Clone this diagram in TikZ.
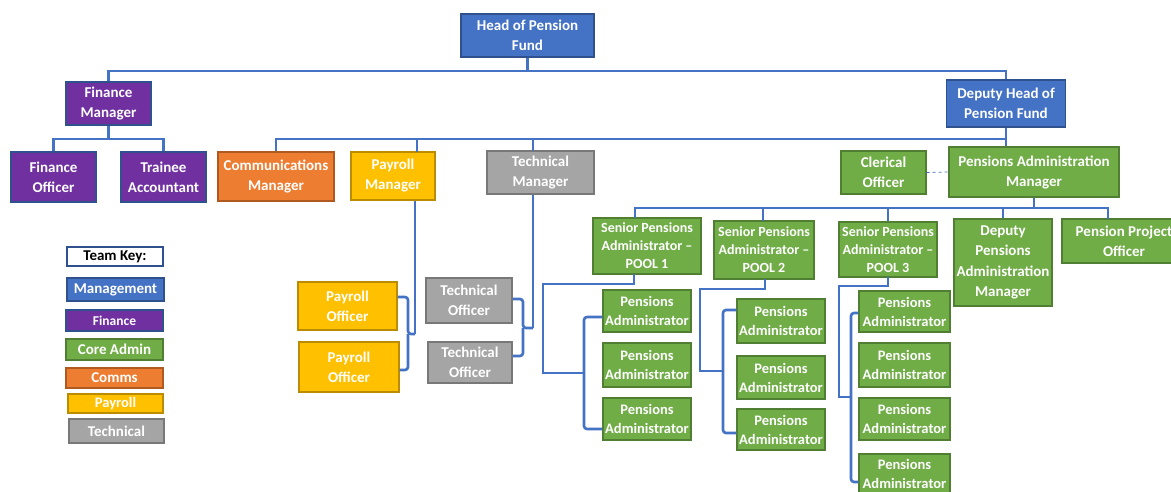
\documentclass[tikz,border=0pt]{standalone}
\usepackage{fontspec}
\setmainfont{Carlito}
\definecolor{mgmt}{HTML}{4472C4}
\definecolor{mgmtD}{HTML}{2F528F}
\definecolor{fin}{HTML}{7030A0}
\definecolor{core}{HTML}{70AD47}
\definecolor{coreD}{HTML}{507E32}
\definecolor{comm}{HTML}{ED7D31}
\definecolor{commD}{HTML}{AE5A21}
\definecolor{pay}{HTML}{FFC000}
\definecolor{payD}{HTML}{BC8C00}
\definecolor{tech}{HTML}{A5A5A5}
\definecolor{techD}{HTML}{787878}
\definecolor{linec}{HTML}{4472C4}
\tikzset{
  box/.style={draw, line width=1.2pt, align=center, text=white, inner sep=0pt,
    font=\bfseries\fontsize{15}{20}\selectfont},
  bmg/.style={box, fill=mgmt, draw=mgmtD},
  bfi/.style={box, fill=fin, draw=mgmtD},
  bco/.style={box, fill=core, draw=coreD},
  bcm/.style={box, fill=comm, draw=commD},
  bpy/.style={box, fill=pay, draw=payD},
  bte/.style={box, fill=tech, draw=techD},
  smalltxt/.style={font=\bfseries\fontsize{14}{18}\selectfont},
  patxt/.style={font=\bfseries\fontsize{14.5}{19}\selectfont},
  conn/.style={draw=linec, line width=2.6pt},
  sz/.style 2 args={minimum width=#1pt, minimum height=#2pt},
}
\begin{document}
\begin{tikzpicture}[x=1pt,y=-1pt]
\useasboundingbox (0,0) rectangle (1171,492);
\clip (0,0) rectangle (1171,492);
\fill[white] (0,0) rectangle (1171,492);

% top level
\node[bmg, sz={133}{43}] (head) at (527.5,35.5) {Head of Pension\\Fund};
\node[bfi, sz={85}{43}] (fm) at (108.5,103.5) {Finance\\Manager};
\node[bmg, sz={119}{47}] (dh) at (1006,103.5) {Deputy Head of\\Pension Fund};
\node[bfi, sz={85}{50}] (fo) at (53.5,177) {Finance\\Officer};
\node[bfi, sz={85}{50}] (ta) at (163.5,177) {Trainee\\Accountant};
\node[bcm, sz={116}{49}] (cmm) at (276,176.5) {Communications\\Manager};
\node[bpy, sz={84}{48}] (pm) at (393,176) {Payroll\\Manager};
\node[bte, sz={107}{43}] (tm) at (540.5,172.5) {Technical\\Manager};
\node[bco, sz={85}{43}] (clo) at (883.5,172.5) {Clerical\\Officer};
\node[bco, sz={170}{50}] (pam) at (1034,172) {Pensions Administration\\Manager};

% pam children
\node[bco, smalltxt, sz={108}{56}] (p1) at (647,246) {Senior Pensions\\Administrator –\\POOL 1};
\node[bco, smalltxt, sz={100}{58}] (p2) at (764,250) {Senior Pensions\\Administrator –\\POOL 2};
\node[bco, smalltxt, sz={98}{55}] (p3) at (888,249.5) {Senior Pensions\\Administrator –\\POOL 3};
\node[bco, sz={98}{87}, font=\bfseries\fontsize{15}{20.5}\selectfont] (dpam) at (1003,262.5) {Deputy\\Pensions\\Administration\\Manager};
\node[bco, sz={124}{44}] (ppo) at (1124,241) {Pension Project\\Officer};

% pool 1
\node[bco, patxt, sz={88}{42}] (pa11) at (647,311) {Pensions\\Administrator};
\node[bco, patxt, sz={88}{44}] (pa12) at (647,365) {Pensions\\Administrator};
\node[bco, patxt, sz={88}{42}] (pa13) at (647,419) {Pensions\\Administrator};
% pool 2
\node[bco, patxt, sz={88}{44}] (pa21) at (781,321) {Pensions\\Administrator};
\node[bco, patxt, sz={88}{43}] (pa22) at (781,377.5) {Pensions\\Administrator};
\node[bco, patxt, sz={88}{41}] (pa23) at (781,429.5) {Pensions\\Administrator};
% pool 3
\node[bco, patxt, sz={91}{41}] (pa31) at (904.5,311.5) {Pensions\\Administrator};
\node[bco, patxt, sz={91}{44}] (pa32) at (904.5,365) {Pensions\\Administrator};
\node[bco, patxt, sz={91}{42}] (pa33) at (904.5,419) {Pensions\\Administrator};
\node[bco, patxt, sz={91}{40}] (pa34) at (904.5,474) {Pensions\\Administrator};

% payroll / technical officers
\node[bpy, sz={99}{48}] (po1) at (347.5,306) {Payroll\\Officer};
\node[bpy, sz={100}{50}] (po2) at (349,367) {Payroll\\Officer};
\node[bte, sz={86}{45}] (to1) at (469,300.5) {Technical\\Officer};
\node[bte, sz={84}{41}] (to2) at (470,362.5) {Technical\\Officer};

% legend
\node[box, draw=mgmtD, fill=white, text=black, sz={96}{19}] (key) at (115,256.5) {Team Key:};
\node[bmg, sz={97}{23}] (kmg) at (115.5,289.5) {Management};
\node[bfi, sz={97}{21}, font=\bfseries\fontsize{13.5}{15}\selectfont] (kfi) at (114.5,320.5) {Finance};
\node[bco, sz={97}{21}] (kco) at (114.5,349.5) {Core Admin};
\node[bcm, sz={97}{20}] (kcm) at (114.5,378) {Comms};
\node[bpy, sz={95}{19}, font=\bfseries\fontsize{14.5}{16}\selectfont] (kpy) at (115.5,403.5) {Payroll};
\node[bte, sz={95}{24}] (kte) at (116.5,431) {Technical};

% connectors: head level
\coordinate (t1) at (527.5,71);
\draw[conn] (head.south) -- (t1);
\draw[conn] (fm.north) |- (t1) -| (dh.north);
% finance
\coordinate (t2) at (108.5,139);
\draw[conn] (fm.south) -- (t2);
\draw[conn] (fo.north) |- (t2) -| (ta.north);
% deputy bus
\coordinate (t3) at (1006,139);
\draw[conn] (dh.south) -- (dh.south |- pam.north);
\draw[conn] (cmm.north) |- (t3);
\coordinate (pmtop) at (417,152);
\coordinate (tmtop) at (533,151);
\draw[conn] (pmtop) -- (pmtop |- t3);
\draw[conn] (tmtop) -- (tmtop |- t3);
% payroll
\coordinate (pmj) at (415,334);
\coordinate (pmb) at (408,334);
\draw[conn] (pmj |- pm.south) -- (pmj);
\draw[conn, rounded corners=3pt] ([yshift=9pt]po1.east) -| (pmb) -- (pmj);
\draw[conn, rounded corners=3pt] ([yshift=-3pt]po2.east) -| (pmb);
% technical
\coordinate (tmj) at (533,328);
\coordinate (tmb) at (523,328);
\draw[conn] (tmj |- tm.south) -- (tmj);
\draw[conn, rounded corners=3pt] ([yshift=1.5pt]to1.east) -| (tmb) -- (tmj);
\draw[conn, rounded corners=3pt] ([yshift=6.5pt]to2.east) -| (tmb);
% clerical
\draw[draw=linec, line width=0.8pt, dashed] (clo.east) -- (pam.west);
% pam bus
\coordinate (t4) at (1035,208);
\coordinate (p1top) at (635,218);
\coordinate (p2top) at (763,221);
\coordinate (ppotop) at (1108,219);
\draw[conn] (pam.south) -- (pam.south |- t4);
\draw[conn] (p1top) |- (t4) -| (ppotop);
\draw[conn] (p2top) -- (p2top |- t4);
\draw[conn] (p3.north) -- (p3.north |- t4);
\draw[conn] (dpam.north) -- (dpam.north |- t4);
% pool 1
\coordinate (p1d) at (634,274);
\coordinate (p1l) at (543,284);
\coordinate (p1m) at (584,373);
\draw[conn] (p1d) |- (p1l) |- (p1m);
\draw[conn, rounded corners=3pt] ([yshift=-6pt]pa11.west) -| (p1m) |- ([yshift=-10pt]pa13.west);
% pool 2
\coordinate (p2d) at (765,279);
\coordinate (p2l) at (700,289);
\coordinate (p2m) at (723,371);
\draw[conn] (p2d) |- (p2l) |- (p2m);
\draw[conn, rounded corners=3pt] ([yshift=11pt]pa21.west) -| (p2m) |- ([yshift=-3.5pt]pa23.west);
% pool 3
\coordinate (p3d) at (888,277);
\coordinate (p3l) at (839,286);
\coordinate (p3m) at (851,397);
\draw[conn] (p3d) |- (p3l) |- (p3m);
\draw[conn, rounded corners=3pt] ([yshift=-1.5pt]pa31.west) -| (p3m) |- ([yshift=-8pt]pa34.west);
\end{tikzpicture}
\end{document}
